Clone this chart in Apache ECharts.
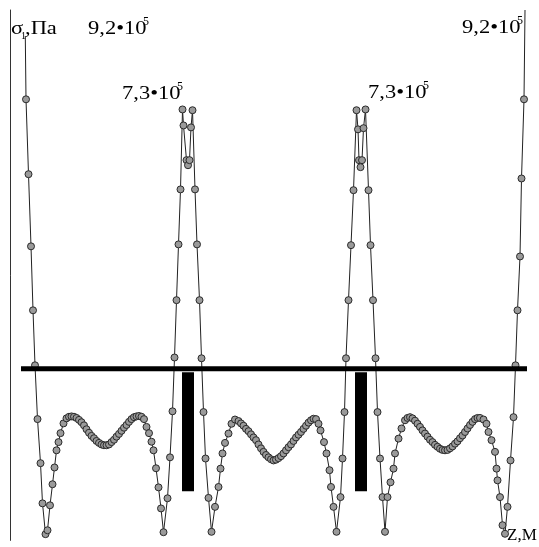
<!DOCTYPE html>
<html>
<head>
<meta charset="utf-8">
<script src="https://cdn.jsdelivr.net/npm/echarts@6.0.0/dist/echarts.min.js"></script>
<style>
	html, body { margin: 0; padding: 0; background: #fff; }
	#chart { width: 539px; height: 547px; }
</style>
</head>
<body>
<div id="chart"></div>
<script>
	// точки кривой: [z, м ; σ1, 10^5 Па]
	const edgeLeft = [[0.30, 9.2], [0.32, 6.91], [0.37, 4.99], [0.42, 3.14], [0.46, 1.50], [0.50, 0.09],
		[0.55, -1.29], [0.61, -2.42], [0.65, -3.45], [0.71, -4.24]]
	const humpLeft = [[0.75, -4.14], [0.80, -3.50], [0.85, -2.96], [0.89, -2.53], [0.93, -2.09], [0.97, -1.88],
		[1.01, -1.65], [1.07, -1.40], [1.13, -1.27], [1.18, -1.23], [1.23, -1.22], [1.28, -1.23], [1.33, -1.26],
		[1.38, -1.31], [1.43, -1.37], [1.48, -1.45], [1.53, -1.55], [1.58, -1.64], [1.63, -1.72], [1.68, -1.78],
		[1.73, -1.85], [1.78, -1.90], [1.83, -1.94], [1.88, -1.96], [1.93, -1.96], [1.98, -1.94], [2.03, -1.88],
		[2.08, -1.82], [2.13, -1.74], [2.18, -1.67], [2.23, -1.59], [2.28, -1.51], [2.33, -1.44], [2.38, -1.36],
		[2.43, -1.29], [2.48, -1.24], [2.53, -1.22], [2.58, -1.21], [2.63, -1.23], [2.68, -1.29], [2.73, -1.49],
		[2.78, -1.65], [2.83, -1.87], [2.87, -2.09], [2.92, -2.55], [2.97, -3.04], [3.02, -3.58], [3.07, -4.19]]
	const peakLeft = [[3.15, -3.32], [3.20, -2.27], [3.25, -1.09], [3.29, 0.29], [3.33, 1.76], [3.37, 3.19],
		[3.41, 4.60], [3.45, 6.65], [3.47, 6.24], [3.53, 5.35], [3.56, 5.22], [3.59, 5.35], [3.62, 6.19],
		[3.65, 6.63], [3.70, 4.60], [3.74, 3.19], [3.79, 1.76], [3.83, 0.27], [3.87, -1.11], [3.91, -2.30],
		[3.97, -3.31], [4.03, -4.18]]
	const humpMid = [[4.10, -3.54], [4.17, -3.03], [4.21, -2.56], [4.25, -2.17], [4.30, -1.90], [4.37, -1.66],
		[4.43, -1.41], [4.50, -1.30], [4.57, -1.34], [4.62, -1.40], [4.67, -1.46], [4.72, -1.54], [4.77, -1.60],
		[4.82, -1.68], [4.87, -1.76], [4.92, -1.83], [4.97, -1.94], [5.02, -2.04], [5.07, -2.13], [5.12, -2.21],
		[5.17, -2.27], [5.22, -2.32], [5.27, -2.35], [5.32, -2.33], [5.37, -2.29], [5.42, -2.24], [5.47, -2.17],
		[5.52, -2.09], [5.57, -2.01], [5.62, -1.94], [5.67, -1.85], [5.72, -1.76], [5.77, -1.69], [5.82, -1.62],
		[5.87, -1.54], [5.92, -1.46], [5.97, -1.38], [6.02, -1.32], [6.07, -1.28], [6.12, -1.29], [6.17, -1.41],
		[6.21, -1.58], [6.28, -1.88], [6.33, -2.17], [6.39, -2.60], [6.42, -3.03], [6.47, -3.54], [6.53, -4.18]]
	const peakRight = [[6.61, -3.29], [6.65, -2.30], [6.69, -1.11], [6.72, 0.27], [6.77, 1.76], [6.82, 3.17],
		[6.87, 4.58], [6.93, 6.63], [6.96, 6.14], [6.98, 5.35], [7.01, 5.17], [7.04, 5.35], [7.07, 6.17],
		[7.11, 6.65], [7.17, 4.58], [7.21, 3.17], [7.26, 1.76], [7.31, 0.27], [7.35, -1.11], [7.40, -2.30],
		[7.45, -3.29], [7.50, -4.18]]
	const humpRight = [[7.55, -3.29], [7.61, -2.91], [7.67, -2.56], [7.70, -2.17], [7.77, -1.79], [7.83, -1.53],
		[7.90, -1.32], [7.95, -1.26], [8.00, -1.24], [8.05, -1.27], [8.10, -1.33], [8.15, -1.41], [8.20, -1.49],
		[8.25, -1.58], [8.30, -1.66], [8.35, -1.74], [8.40, -1.82], [8.45, -1.88], [8.50, -1.95], [8.55, -2.00],
		[8.60, -2.05], [8.65, -2.08], [8.70, -2.09], [8.75, -2.08], [8.80, -2.04], [8.85, -1.99], [8.90, -1.92],
		[8.95, -1.86], [9.00, -1.78], [9.05, -1.71], [9.10, -1.62], [9.15, -1.53], [9.20, -1.44], [9.25, -1.36],
		[9.30, -1.29], [9.35, -1.26], [9.40, -1.26], [9.47, -1.30], [9.53, -1.41], [9.57, -1.62], [9.63, -1.83],
		[9.70, -2.13], [9.73, -2.56], [9.75, -2.86], [9.80, -3.29], [9.85, -4.01], [9.90, -4.23]]
	const edgeRight = [[9.95, -3.54], [10.01, -2.35], [10.07, -1.24], [10.11, 0.09], [10.15, 1.50], [10.20, 2.88],
		[10.23, 4.88], [10.28, 6.91], [10.30, 9.2]]

	// ось z (толстая линия) и опоры
	const zeroLine = [[0.22, 0], [10.34, 0]]
	const supportZ = [3.56, 7.02]
	const supportSigma = [-0.09, -3.14]

	const peakTexts = ['9,2•10', '7,3•10', '7,3•10', '9,2•10']
	const peakPowers = ['5', '5', '5', '5']
	const peakPos = [[88, 20], [122, 85], [368, 84], [462, 19]]

	const curve = [].concat(edgeLeft, humpLeft, peakLeft, humpMid, peakRight, humpRight, edgeRight)
	const curveData = curve.map((p, i) => (i === 0 || i === curve.length - 1) ? { value: p, symbolSize: 0 } : p)

	const serif = '"Liberation Serif", "DejaVu Serif", serif'
	const stretch = 1.25
	const graphic = [
		{ type: 'rect', left: 12, top: 6, shape: { width: 50, height: 30 }, style: { fill: '#fff' }, z: 50 },
		{ type: 'text', left: 11, top: 20, scaleX: stretch, z: 60, style: { text: 'σ', fontSize: 18, fontFamily: serif, fill: '#000' } },
		{ type: 'text', left: 21, top: 31, z: 60, style: { text: '1', fontSize: 10, fontFamily: serif, fill: '#000' } },
		{ type: 'text', left: 25, top: 20, scaleX: stretch, z: 60, style: { text: ',Па', fontSize: 18, fontFamily: serif, fill: '#000' } },
		{ type: 'text', left: 507, top: 527, z: 60, style: { text: 'Z,M', fontSize: 17, fontFamily: serif, fill: '#000' } }
	]
	peakTexts.forEach((t, i) => {
		graphic.push({ type: 'text', left: peakPos[i][0], top: peakPos[i][1], scaleX: stretch, z: 60,
			style: { text: t, fontSize: 18, fontFamily: serif, fill: '#000' } })
		graphic.push({ type: 'text', left: peakPos[i][0] + 55, top: peakPos[i][1] - 4, z: 60,
			style: { text: peakPowers[i], fontSize: 12, fontFamily: serif, fill: '#000' } })
	})

	const supportSeries = supportZ.map((z) => ({
		type: 'line',
		data: [[z, supportSigma[0]], [z, supportSigma[1]]],
		symbol: 'none',
		lineStyle: { color: '#000', width: 12, cap: 'butt' },
		silent: true,
		z: 3
	}))

	const myChart = echarts.init(document.getElementById('chart'))
	myChart.setOption({
		animation: false,
		backgroundColor: '#fff',
		grid: { left: 10, top: 10, width: 520, height: 530.4 },
		xAxis: {
			type: 'value', min: 0, max: 10.4,
			axisLine: { show: false }, axisTick: { show: false },
			axisLabel: { show: false }, splitLine: { show: false }
		},
		yAxis: {
			type: 'value', min: -4.4, max: 9.2,
			axisLine: { show: true, onZero: false, lineStyle: { color: '#333', width: 1 } },
			axisTick: { show: false }, axisLabel: { show: false }, splitLine: { show: false }
		},
		graphic: graphic,
		series: [
			{
				type: 'line',
				data: curveData,
				showAllSymbol: true,
				symbol: 'circle',
				symbolSize: 7,
				itemStyle: { color: '#9a9a9a', borderColor: '#2a2a2a', borderWidth: 1 },
				lineStyle: { color: '#222', width: 1 },
				silent: true,
				z: 2
			},
			{
				type: 'line',
				data: zeroLine,
				symbol: 'none',
				lineStyle: { color: '#000', width: 5 },
				silent: true,
				z: 4
			}
		].concat(supportSeries)
	})
</script>
</body>
</html>
